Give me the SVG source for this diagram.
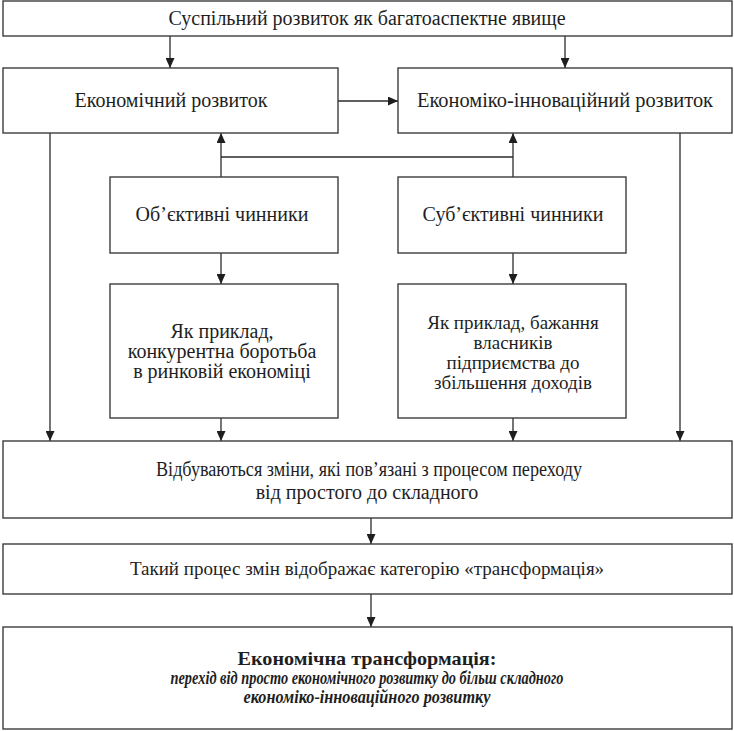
<svg xmlns="http://www.w3.org/2000/svg" width="734" height="731" viewBox="0 0 734 731">
<style>
.box{fill:#fff;stroke:#3c3c3c;stroke-width:1.4}
.t{font-family:'Times New Roman','Liberation Serif','DejaVu Serif',serif;font-size:20px;fill:#1e1e1e;text-anchor:middle}
.s19{font-size:19px}
.b{font-weight:bold}
.i{font-style:italic;font-weight:bold}
.c{fill:none;stroke:#2a2a2a;stroke-width:1.3}
</style>
<defs>
<marker id="ah" markerUnits="userSpaceOnUse" markerWidth="10" markerHeight="9" refX="10" refY="4.5" orient="auto">
<path d="M0,0 L10,4.5 L0,9 z" fill="#1e1e1e"/>
</marker>
</defs>
<rect width="734" height="731" fill="#fff"/>
<g id="connectors">
<line class="c" x1="170" y1="36" x2="170" y2="68" marker-end="url(#ah)"/>
<line class="c" x1="565" y1="36" x2="565" y2="68" marker-end="url(#ah)"/>
<line class="c" x1="338" y1="101" x2="398" y2="101" marker-end="url(#ah)"/>
<line class="c" x1="50" y1="133" x2="50" y2="441" marker-end="url(#ah)"/>
<line class="c" x1="680" y1="133" x2="680" y2="441" marker-end="url(#ah)"/>
<line class="c" x1="221" y1="177" x2="221" y2="133" marker-end="url(#ah)"/>
<line class="c" x1="513" y1="177" x2="513" y2="133" marker-end="url(#ah)"/>
<line class="c" x1="221" y1="157" x2="513" y2="157"/>
<line class="c" x1="221" y1="253" x2="221" y2="284" marker-end="url(#ah)"/>
<line class="c" x1="513" y1="253" x2="513" y2="284" marker-end="url(#ah)"/>
<line class="c" x1="221" y1="418" x2="221" y2="441" marker-end="url(#ah)"/>
<line class="c" x1="513" y1="418" x2="513" y2="441" marker-end="url(#ah)"/>
<line class="c" x1="371" y1="518" x2="371" y2="544" marker-end="url(#ah)"/>
<line class="c" x1="371" y1="594" x2="371" y2="627" marker-end="url(#ah)"/>
</g>
<g id="n-top">
<rect class="box" x="3" y="1" width="729" height="35"/>
<text class="t" x="367" y="25">Суспільний розвиток як багатоаспектне явище</text>
</g>
<g id="n-econ">
<rect class="box" x="3" y="68" width="335" height="65"/>
<text class="t" x="171" y="107">Економічний розвиток</text>
</g>
<g id="n-innov">
<rect class="box" x="398" y="68" width="334" height="65"/>
<text class="t" x="565" y="107" textLength="296" lengthAdjust="spacingAndGlyphs">Економіко-інноваційний розвиток</text>
</g>
<g id="n-obj">
<rect class="box" x="110" y="177" width="228" height="76"/>
<text class="t" x="222" y="221">Об’єктивні чинники</text>
</g>
<g id="n-subj">
<rect class="box" x="398" y="177" width="228" height="76"/>
<text class="t" x="513" y="221">Суб’єктивні чинники</text>
</g>
<g id="n-ex-obj">
<rect class="box" x="110" y="284" width="228" height="134"/>
<text class="t" x="222" y="338">Як приклад,</text>
<text class="t" x="222" y="358">конкурентна боротьба</text>
<text class="t" x="222" y="378">в ринковій економіці</text>
</g>
<g id="n-ex-subj">
<rect class="box" x="398" y="284" width="228" height="134"/>
<text class="t s19" x="513" y="329">Як приклад, бажання</text>
<text class="t s19" x="513" y="349">власників</text>
<text class="t s19" x="513" y="369">підприємства до</text>
<text class="t s19" x="513" y="389">збільшення доходів</text>
</g>
<g id="n-changes">
<rect class="box" x="3" y="441" width="729" height="77"/>
<text class="t" x="369" y="476" textLength="426" lengthAdjust="spacingAndGlyphs">Відбуваються зміни, які пов’язані з процесом переходу</text>
<text class="t" x="367" y="499">від простого до складного</text>
</g>
<g id="n-process">
<rect class="box" x="3" y="544" width="729" height="50"/>
<text class="t s19" x="367" y="575">Такий процес змін відображає категорію «трансформація»</text>
</g>
<g id="n-final">
<rect class="box" x="3" y="627" width="729" height="102"/>
<text class="t b s19" x="367" y="665" textLength="259" lengthAdjust="spacingAndGlyphs">Економічна трансформація:</text>
<text class="t i s19" x="367" y="684" textLength="393" lengthAdjust="spacingAndGlyphs">перехід від просто економічного розвитку до більш складного</text>
<text class="t i s19" x="367" y="703" textLength="247" lengthAdjust="spacingAndGlyphs">економіко-інноваційного розвитку</text>
</g>
</svg>
